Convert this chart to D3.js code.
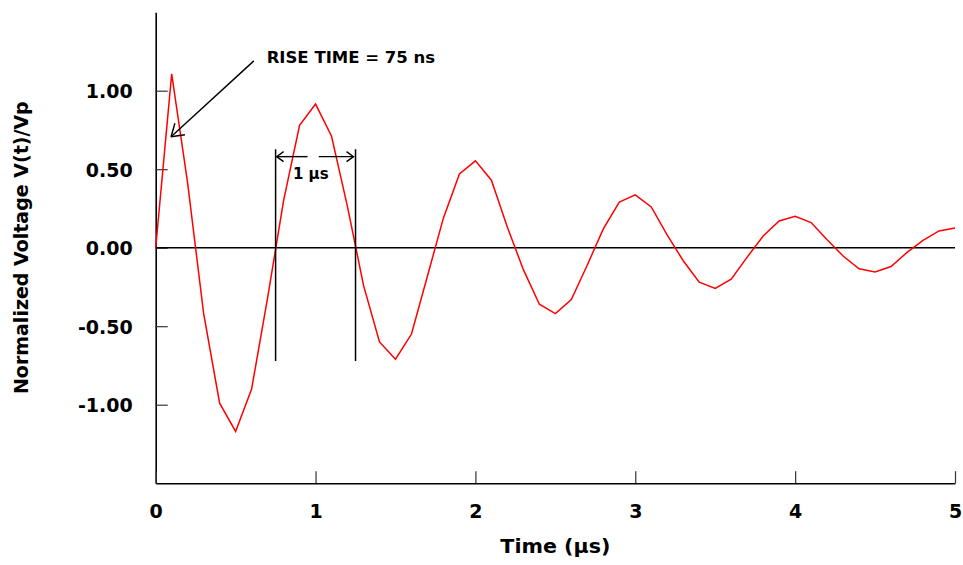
<!DOCTYPE html>
<html>
<head>
<meta charset="utf-8">
<script src="https://cdn.jsdelivr.net/npm/d3@7"></script>
<style>
  html, body { margin: 0; padding: 0; background: #fff; }
  svg { display: block; }
  text { font-family: "DejaVu Sans", sans-serif; font-weight: bold; fill: #000; }
</style>
</head>
<body>
<svg id="chart" width="963" height="565"></svg>
<script>
// ---- data ----
const timeUs = [0.0,0.1,0.2,0.3,0.4,0.5,0.6,0.7,0.8,0.9,
                1.0,1.1,1.2,1.3,1.4,1.5,1.6,1.7,1.8,1.9,
                2.0,2.1,2.2,2.3,2.4,2.5,2.6,2.7,2.8,2.9,
                3.0,3.1,3.2,3.3,3.4,3.5,3.6,3.7,3.8,3.9,
                4.0,4.1,4.2,4.3,4.4,4.5,4.6,4.7,4.8,4.9,5.0];
const voltage = [0.000,1.107,0.410,-0.420,-0.990,-1.170,-0.900,-0.320,0.300,0.780,
                 0.915,0.710,0.260,-0.240,-0.600,-0.710,-0.550,-0.180,0.190,0.470,
                 0.553,0.430,0.130,-0.140,-0.360,-0.420,-0.330,-0.110,0.120,0.290,
                 0.337,0.260,0.080,-0.083,-0.220,-0.260,-0.200,-0.060,0.075,0.170,
                 0.200,0.160,0.050,-0.053,-0.134,-0.155,-0.120,-0.030,0.047,0.107,0.126];
const xTicks = [0,1,2,3,4,5];
const xTickLabels = ["0","1","2","3","4","5"];
const yTicks = [-1.0,-0.5,0.0,0.5,1.0];
const yTickLabels = ["-1.00","-0.50","0.00","0.50","1.00"];
const xTitle = "Time (\u00b5s)";
const yTitle = "Normalized Voltage V(t)/Vp";
const riseLabel = "RISE TIME = 75 ns";
const periodLabel = "1 \u00b5s";
// annotation anchors in data units (time µs, normalized volts)
const riseArrow = {from: [0.614, 1.19], to: [0.096, 0.707], text: [0.694, 1.178]};
const periodMarks = {t0: 0.75, t1: 1.25, vTop: 0.627, vBottom: -0.722, vArrow: 0.58,
                     gapL: 0.95, gapR: 1.02, textT: 0.97, textV: 0.436};

// ---- layout ----
const svg = d3.select("#chart");
const x = d3.scaleLinear().domain([0, 5]).range([155.7, 955]);
const y = d3.scaleLinear().domain([-1.5, 1.5]).range([483.2, 12.2]);

// y axis
const yAxis = d3.axisLeft(y)
  .tickValues(yTicks)
  .tickFormat((d, i) => yTickLabels[i])
  .tickSizeInner(-12).tickSizeOuter(0).tickPadding(23);
const gy = svg.append("g").attr("transform", `translate(${x(0)},0)`).call(yAxis);
gy.select(".domain").attr("stroke", "#000").attr("stroke-width", 1.6);
gy.selectAll(".tick line").attr("stroke", "#333").attr("stroke-width", 1.2);
gy.selectAll(".tick text").attr("font-size", 19).attr("font-family", "DejaVu Sans").attr("font-weight", "bold").attr("fill", "#000").attr("dy", "0.36em");

// x axis
const xAxis = d3.axisBottom(x)
  .tickValues(xTicks)
  .tickFormat((d, i) => xTickLabels[i])
  .tickSizeInner(-12).tickSizeOuter(0).tickPadding(21);
const gx = svg.append("g").attr("transform", `translate(0,${y(-1.5)})`).call(xAxis);
gx.select(".domain").attr("stroke", "#000").attr("stroke-width", 1.6);
gx.selectAll(".tick line").attr("stroke", "#333").attr("stroke-width", 1.2);
gx.selectAll(".tick text").attr("font-size", 19).attr("font-family", "DejaVu Sans").attr("font-weight", "bold").attr("fill", "#000");

// zero line
svg.append("line")
  .attr("x1", x(0)).attr("x2", x(5)).attr("y1", y(0)).attr("y2", y(0))
  .attr("stroke", "#000").attr("stroke-width", 1.5);

// titles
svg.append("text").attr("x", (x(0) + x(5)) / 2).attr("y", 552.5)
  .attr("text-anchor", "middle").attr("font-size", 19)
  .attr("textLength", 110).attr("lengthAdjust", "spacingAndGlyphs")
  .text(xTitle);
svg.append("text")
  .attr("transform", `translate(28,${y(0)}) rotate(-90)`)
  .attr("text-anchor", "middle").attr("font-size", 19)
  .text(yTitle);

// waveform
const data = timeUs.map((t, i) => ({t, v: voltage[i]}));
svg.append("path").datum(data)
  .attr("fill", "none").attr("stroke", "#ff0000").attr("stroke-width", 1.5)
  .attr("stroke-linejoin", "miter")
  .attr("d", d3.line().x(d => x(d.t)).y(d => y(d.v)));

// rise-time annotation
const ax1 = x(riseArrow.from[0]), ay1 = y(riseArrow.from[1]);
const ax2 = x(riseArrow.to[0]), ay2 = y(riseArrow.to[1]);
svg.append("line").attr("x1", ax1).attr("y1", ay1).attr("x2", ax2).attr("y2", ay2)
  .attr("stroke", "#000").attr("stroke-width", 1.4);
const ang = Math.atan2(ay1 - ay2, ax1 - ax2);
[-0.55, 0.6].forEach(da => {
  const L = 14;
  svg.append("line").attr("x1", ax2).attr("y1", ay2)
    .attr("x2", ax2 + L * Math.cos(ang + da)).attr("y2", ay2 + L * Math.sin(ang + da))
    .attr("stroke", "#000").attr("stroke-width", 1.4);
});
svg.append("text").attr("x", x(riseArrow.text[0])).attr("y", y(riseArrow.text[1]))
  .attr("font-size", 16.5).text(riseLabel);

// period annotation
[periodMarks.t0, periodMarks.t1].forEach(t => {
  svg.append("line").attr("x1", x(t)).attr("x2", x(t))
    .attr("y1", y(periodMarks.vTop)).attr("y2", y(periodMarks.vBottom))
    .attr("stroke", "#000").attr("stroke-width", 1.5);
});
const ya = y(periodMarks.vArrow);
function arrow(xs, xe) {
  svg.append("line").attr("x1", xs).attr("x2", xe).attr("y1", ya).attr("y2", ya)
    .attr("stroke", "#000").attr("stroke-width", 1.4);
  const dir = Math.sign(xs - xe);
  svg.append("path")
    .attr("d", `M${xe + dir * 7},${ya - 5}L${xe},${ya}L${xe + dir * 7},${ya + 5}`)
    .attr("fill", "none").attr("stroke", "#000").attr("stroke-width", 1.4);
}
arrow(x(periodMarks.gapL), x(periodMarks.t0) + 1);
arrow(x(periodMarks.gapR), x(periodMarks.t1) - 2);
svg.append("text").attr("x", x(periodMarks.textT)).attr("y", y(periodMarks.textV))
  .attr("text-anchor", "middle").attr("font-size", 15).text(periodLabel);
</script>
</body>
</html>
